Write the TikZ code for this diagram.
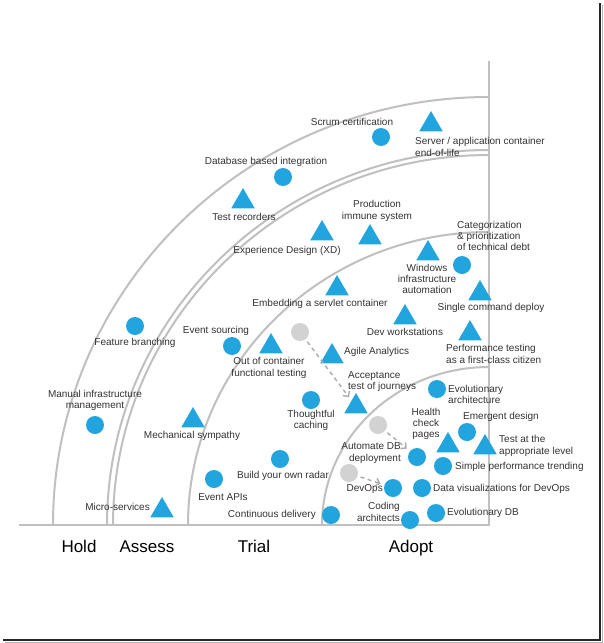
\documentclass[tikz,border=0pt]{standalone}
\usepackage{fontspec}
\setmainfont{Liberation Sans}
\usepackage{tikz}
\usetikzlibrary{positioning,arrows.meta,shapes.geometric}
\definecolor{blipblue}{HTML}{22A5DE}
\definecolor{ringgray}{HTML}{C0C0C0}
\definecolor{labelgray}{HTML}{333333}
\tikzset{
  ringline/.style={draw=ringgray, line width=2pt},
  blipnode/.style={circle, fill=blipblue, minimum size=18pt, inner sep=0pt},
  newnode/.style={regular polygon, regular polygon sides=3, fill=blipblue, minimum size=27pt, inner sep=0pt},
  movednode/.style={circle, fill=gray!35, minimum size=18pt, inner sep=0pt},
  movearrow/.style={-{Straight Barb[length=4pt, width=8pt]}, dash pattern=on 4pt off 3.5pt, line width=1.4pt, gray!65, shorten >=4pt, shorten <=3pt},
  itemlabel/.style={font=\fontsize{10}{11.3}\selectfont, text=labelgray, inner sep=0pt, align=center},
  ringlabel/.style={font=\fontsize{17}{20}\selectfont, inner sep=0pt, anchor=base}
}

\begin{document}
\begin{tikzpicture}[x=1pt, y=-1pt]
  \useasboundingbox[fill=white] (0,0) rectangle (603,643);
  % frame shadow
  \draw[line width=2pt, gray!30!black] (600,3) -- (600,640) -- (3,640);
  \draw[line width=1pt, gray!60] (602,5) -- (602,642) -- (5,642);

  % rings and axes
  \foreach \rx/\ry in {436/428, 382/375, 376/370, 301/293, 167/158}
    \draw[ringline] ({489-\rx},525) arc[start angle=180, end angle=270, x radius=\rx, y radius=\ry];
  \draw[ringline] (19,525) -- (489,525) -- (489,61);

  \node[ringlabel] (hold) at (79,552) {Hold};
  \node[ringlabel] (assess) at (147,552) {Assess};
  \node[ringlabel] (trial) at (254,552) {Trial};
  \node[ringlabel] (adopt) at (411,552) {Adopt};

  % hold and assess
  \node[blipnode] (scrum) at (381,137) {};
  \node[itemlabel] at (352,122) {Scrum certification};
  \node[newnode] (srvend) at (431,124.5) {};
  \node[itemlabel, anchor=west, align=left] at (415,147) {Server / application container\\end-of-life};
  \node[blipnode] (dbint) at (283,177) {};
  \node[itemlabel] at (266,162) {Database based integration};
  \node[blipnode] (featbr) at (135,326) {};
  \node[itemlabel] at (135,343) {Feature branching};
  \node[blipnode] (manual) at (95,425) {};
  \node[itemlabel] at (95,400.5) {Manual infrastructure\\management};
  \node[newnode] (testrec) at (243,201.5) {};
  \node[itemlabel] at (244,217) {Test recorders};
  \node[newnode] (xd) at (322,233.5) {};
  \node[itemlabel] at (287,251) {Experience Design (XD)};
  \node[newnode] (prodimm) at (370,237.5) {};
  \node[itemlabel] at (377,211) {Production\\immune system};
  \node[newnode] (mechsym) at (193,420.5) {};
  \node[itemlabel] at (192,436) {Mechanical sympathy};
  \node[newnode] (micro) at (162,510.5) {};
  \node[itemlabel, anchor=east] at (150,507) {Micro-services};

  % trial
  \node[newnode] (wininf) at (428,253.5) {};
  \node[itemlabel] at (427,279) {Windows\\infrastructure\\automation};
  \node[blipnode] (catdebt) at (462,265) {};
  \node[itemlabel, anchor=west, align=left] at (457,236) {Categorization\\\& prioritization\\of technical debt};
  \node[newnode] (singlecmd) at (480,293.5) {};
  \node[itemlabel] at (491,308) {Single command deploy};
  \node[newnode] (servlet) at (337,288.5) {};
  \node[itemlabel] at (320,304) {Embedding a servlet container};
  \node[newnode] (devws) at (405,317.5) {};
  \node[itemlabel] at (405,332) {Dev workstations};
  \node[newnode] (perftest) at (470,333.5) {};
  \node[itemlabel, anchor=west, align=left] at (446,354) {Performance testing\\as a first-class citizen};
  \node[blipnode] (eventsrc) at (232,346) {};
  \node[itemlabel] at (216,331) {Event sourcing};
  \node[newnode] (outcont) at (271,346.5) {};
  \node[itemlabel] at (269,368) {Out of container\\functional testing};
  \node[movednode] (acceptold) at (300,332) {};
  \node[newnode] (agile) at (332,356.5) {};
  \node[itemlabel, anchor=west] at (344,352) {Agile Analytics};
  \node[newnode] (accept) at (356,406.5) {};
  \node[itemlabel, anchor=west, align=left] at (348,381.5) {Acceptance\\test of journeys};
  \node[blipnode] (caching) at (311,400) {};
  \node[itemlabel] at (311,420.5) {Thoughtful\\caching};
  \node[blipnode] (radar) at (280,459) {};
  \node[itemlabel] at (283,476) {Build your own radar};
  \node[blipnode] (eventapi) at (214,479) {};
  \node[itemlabel] at (223,497) {Event APIs};

  % adopt
  \node[blipnode] (evoarch) at (437,389) {};
  \node[itemlabel, anchor=west, align=left] at (448,394.5) {Evolutionary\\architecture};
  \node[movednode] (autodbold) at (378,425) {};
  \node[newnode] (health) at (448,445.5) {};
  \node[itemlabel] at (426,424) {Health\\check\\pages};
  \node[blipnode] (emergent) at (467,432) {};
  \node[itemlabel] at (501,417) {Emergent design};
  \node[newnode] (testlevel) at (485,447.5) {};
  \node[itemlabel, anchor=west, align=left] at (499,446) {Test at the\\appropriate level};
  \node[blipnode] (autodb) at (417,457) {};
  \node[itemlabel, anchor=east, align=right] at (401,453) {Automate DB\\deployment};
  \node[blipnode] (simpleperf) at (443,466) {};
  \node[itemlabel, anchor=west] at (455,467) {Simple performance trending};
  \node[movednode] (devopsold) at (349,473) {};
  \node[blipnode] (devops) at (393,488) {};
  \node[itemlabel, anchor=east] at (383,489) {DevOps};
  \node[blipnode] (dataviz) at (422,488) {};
  \node[itemlabel, anchor=west] at (433,489) {Data visualizations for DevOps};
  \node[blipnode] (contdel) at (331,515) {};
  \node[itemlabel, anchor=east] at (316,515) {Continuous delivery};
  \node[blipnode] (coding) at (410,520) {};
  \node[itemlabel, anchor=east, align=right] at (400,512) {Coding\\architects};
  \node[blipnode] (evodb) at (436,513) {};
  \node[itemlabel, anchor=west] at (447,513) {Evolutionary DB};

  % moved blips
  \draw[movearrow] (acceptold) -- (accept);
  \draw[movearrow] (autodbold) -- (autodb);
  \draw[movearrow] (devopsold) -- (devops);
\end{tikzpicture}
\end{document}
